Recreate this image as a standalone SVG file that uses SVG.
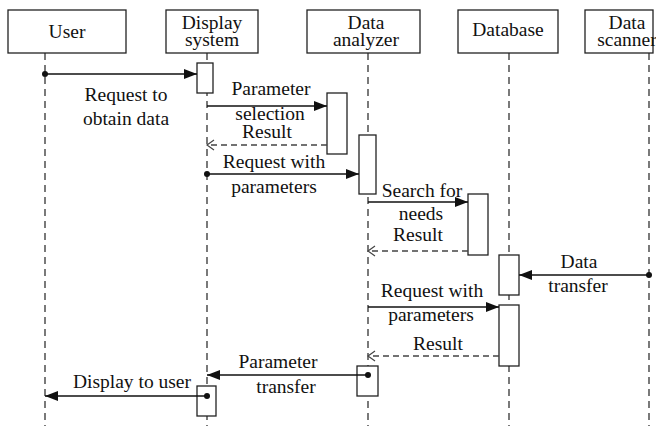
<svg xmlns="http://www.w3.org/2000/svg" width="656" height="426" viewBox="0 0 656 426" font-family="'Liberation Serif', 'Times New Roman', 'DejaVu Serif', serif">
<style>
.box{fill:#fff;stroke:#222;stroke-width:1.3}
.life{stroke:#333;stroke-width:1.3;stroke-dasharray:7 5;fill:none}
.act{fill:#fff;stroke:#222;stroke-width:1.3}
.msg{stroke:#111;stroke-width:1.4;fill:none}
.ret{stroke:#444;stroke-width:1.3;stroke-dasharray:6 4;fill:none}
text{font-family:'Liberation Serif','Times New Roman','DejaVu Serif',serif;font-size:19.5px;fill:#111;text-anchor:middle}
</style>
<defs>
<marker id="ah" markerUnits="userSpaceOnUse" markerWidth="14" markerHeight="10" refX="13" refY="5" orient="auto">
<path d="M0,0 L13,5 L0,10 Z" fill="#111"/>
</marker>
<marker id="oh" markerUnits="userSpaceOnUse" markerWidth="10" markerHeight="12" refX="8" refY="6" orient="auto">
<path d="M1,1 L8,6 L1,11" fill="none" stroke="#444" stroke-width="1.2"/>
</marker>
</defs>
<g id="lifelines">
<line class="life" x1="45" y1="53" x2="45" y2="426"/>
<line class="life" x1="207" y1="53" x2="207" y2="426"/>
<line class="life" x1="368" y1="53" x2="368" y2="426"/>
<line class="life" x1="509" y1="53" x2="509" y2="426"/>
<line class="life" x1="649" y1="53" x2="649" y2="426"/>
</g>
<g id="user"><rect class="box" x="8" y="10" width="118" height="43"/><text x="67" y="38">User</text></g>
<g id="display"><rect class="box" x="166" y="10" width="92" height="43"/><text x="212" y="29">Display</text><text x="212" y="46">system</text></g>
<g id="analyzer"><rect class="box" x="307" y="10" width="113" height="43"/><text x="366" y="29">Data</text><text x="366" y="46">analyzer</text></g>
<g id="database"><rect class="box" x="458" y="10" width="100" height="43"/><text x="508" y="36">Database</text></g>
<g id="scanner"><rect class="box" x="585" y="10" width="68" height="43"/><text x="627" y="29">Data</text><text x="627" y="46">scanner</text></g>
<g id="activations">
<rect class="act" x="197" y="63" width="16" height="30"/>
<rect class="act" x="327" y="93" width="20" height="61"/>
<rect class="act" x="359" y="135" width="17" height="59"/>
<rect class="act" x="468" y="194" width="20" height="61"/>
<rect class="act" x="499" y="255" width="20" height="40"/>
<rect class="act" x="499" y="305" width="20" height="61"/>
<rect class="act" x="357" y="366" width="21" height="30"/>
<rect class="act" x="197" y="386" width="19" height="30"/>
</g>
<g id="connectors">
<line class="msg" x1="45" y1="74" x2="197" y2="74" marker-end="url(#ah)"/><circle cx="45" cy="74" r="3" fill="#111"/>
<line class="msg" x1="207" y1="106" x2="327" y2="106" marker-end="url(#ah)"/>
<line class="ret" x1="327" y1="145" x2="207" y2="145" marker-end="url(#oh)"/>
<line class="msg" x1="207" y1="174" x2="359" y2="174" marker-end="url(#ah)"/><circle cx="207" cy="174" r="3" fill="#111"/>
<line class="msg" x1="368" y1="202" x2="468" y2="202" marker-end="url(#ah)"/>
<line class="ret" x1="468" y1="251" x2="368" y2="251" marker-end="url(#oh)"/>
<line class="msg" x1="649" y1="275" x2="519" y2="275" marker-end="url(#ah)"/><circle cx="649" cy="275" r="3" fill="#111"/>
<line class="msg" x1="368" y1="307" x2="499" y2="307" marker-end="url(#ah)"/>
<line class="ret" x1="499" y1="356" x2="368" y2="356" marker-end="url(#oh)"/>
<line class="msg" x1="368" y1="375" x2="207" y2="375" marker-end="url(#ah)"/><circle cx="368" cy="375" r="3" fill="#111"/>
<line class="msg" x1="207" y1="396" x2="45" y2="396" marker-end="url(#ah)"/><circle cx="207" cy="396" r="3" fill="#111"/>
</g>
<g id="labels">
<text x="126" y="101">Request to</text><text x="126" y="125">obtain data</text>
<text x="271" y="95">Parameter</text><text x="270" y="120">selection</text><text x="267" y="138">Result</text>
<text x="274" y="168">Request with</text><text x="274" y="193">parameters</text>
<text x="422" y="197">Search for</text><text x="421" y="220">needs</text><text x="418" y="241">Result</text>
<text x="579" y="268">Data</text><text x="578" y="292">transfer</text>
<text x="432" y="297">Request with</text><text x="431" y="321">parameters</text><text x="438" y="350">Result</text>
<text x="278" y="368">Parameter</text><text x="286" y="393">transfer</text>
<text x="132" y="388">Display to user</text>
</g>
</svg>
